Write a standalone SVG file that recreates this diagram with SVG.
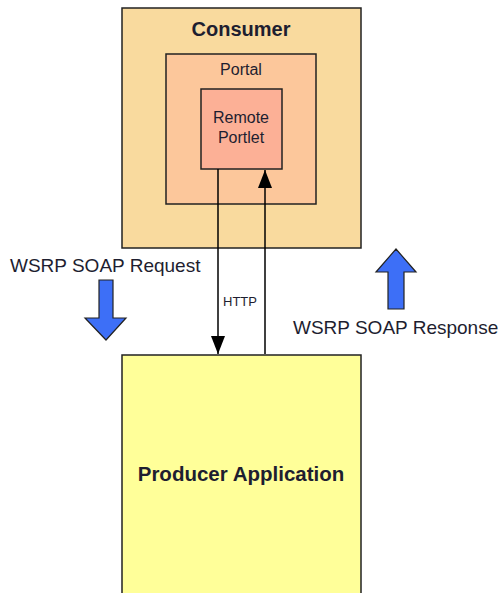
<svg xmlns="http://www.w3.org/2000/svg" width="498" height="593" viewBox="0 0 498 593">
<style>
.box{stroke:#222;stroke-width:1.5}
.t{font-family:"Liberation Sans",Arial,sans-serif;fill:#1e1e30}
.b{font-weight:bold}
.conn{stroke:#000;stroke-width:1.5;fill:none}
.blue{fill:#3d6ff7;stroke:#222;stroke-width:1.2}
</style>
<defs>
<marker id="ah" viewBox="0 0 14 18" refX="14" refY="7" markerWidth="14" markerHeight="18" markerUnits="userSpaceOnUse" orient="auto">
<path d="M0,0 L18,7 L0,14 z" fill="#000"/>
</marker>
<marker id="ah2" viewBox="0 0 18 14" refX="18" refY="7" markerWidth="18" markerHeight="14" markerUnits="userSpaceOnUse" orient="auto">
<path d="M0,0 L18,7 L0,14 z" fill="#000"/>
</marker>
</defs>
<rect width="498" height="593" fill="#fff"/>
<g id="consumer">
<rect class="box" x="122" y="8" width="239" height="240" fill="#f9da9e"/>
<text class="t b" x="241" y="36" font-size="20" text-anchor="middle">Consumer</text>
</g>
<g id="portal">
<rect class="box" x="166" y="54" width="150" height="150" fill="#fcc79b"/>
<text class="t" x="241" y="75" font-size="16" text-anchor="middle">Portal</text>
</g>
<g id="remote-portlet">
<rect class="box" x="201" y="89" width="81" height="80" fill="#fcb096"/>
<text class="t" x="241" y="123" font-size="16" text-anchor="middle">Remote</text>
<text class="t" x="241" y="143" font-size="16" text-anchor="middle">Portlet</text>
</g>
<g id="producer">
<rect class="box" x="122" y="355" width="239" height="250" fill="#ffff99"/>
<text class="t b" x="241" y="481" font-size="20.5" text-anchor="middle">Producer Application</text>
</g>
<g id="connectors">
<line class="conn" x1="218" y1="169" x2="218" y2="354" marker-end="url(#ah2)"/>
<line class="conn" x1="265" y1="354" x2="265" y2="170" marker-end="url(#ah2)"/>
<text class="t" x="223" y="306" font-size="13">HTTP</text>
</g>
<g id="request">
<text class="t" x="10" y="272" font-size="19">WSRP SOAP Request</text>
<path class="blue" d="M99,280 L113,280 L113,318 L126,318 L106,340 L85,318 L99,318 Z"/>
</g>
<g id="response">
<path class="blue" d="M388,309 L404,309 L404,272 L416,272 L396,249 L376,272 L388,272 Z"/>
<text class="t" x="293" y="334" font-size="19">WSRP SOAP Response</text>
</g>
</svg>
